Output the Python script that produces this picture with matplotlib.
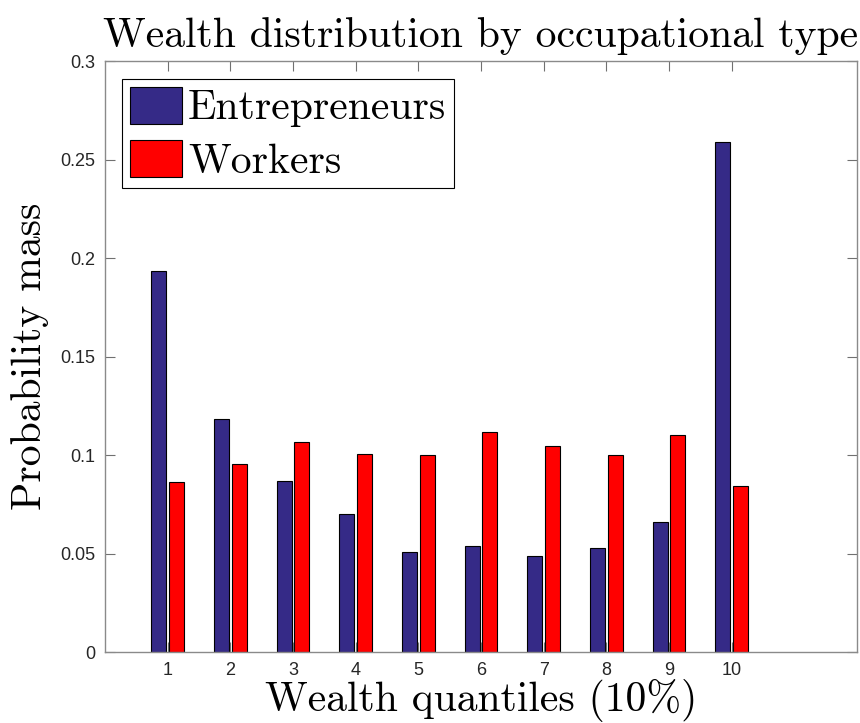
import matplotlib.pyplot as plt
import numpy as np

# Wealth quantile groups
quantiles = [1, 2, 3, 4, 5, 6, 7, 8, 9, 10]
entrepreneurs = [0.1933, 0.1183, 0.0867, 0.0700, 0.0510, 0.0540, 0.0486, 0.0529, 0.0662, 0.2590]
workers = [0.0865, 0.0953, 0.1066, 0.1007, 0.0998, 0.1116, 0.1045, 0.1000, 0.1101, 0.0843]

blue = '#352A87'
red = '#FF0000'
serif = 'cmr10'

fig = plt.figure(figsize=(8.6, 7.23), dpi=100)
ax = fig.add_axes([0.1221, 0.0982, 0.8744, 0.8174])

x = np.array(quantiles)
w = 0.24
ax.bar(x - 0.14, entrepreneurs, width=w, color=blue, edgecolor='black', linewidth=0.8, label='Entrepreneurs')
ax.bar(x + 0.14, workers, width=w, color=red, edgecolor='black', linewidth=0.8, label='Workers')

ax.set_xlim(0, 12)
ax.set_ylim(0, 0.3)
ax.set_xticks(quantiles)
ax.set_yticks([0, 0.05, 0.1, 0.15, 0.2, 0.25, 0.3])
ax.set_yticklabels(['0', '0.05', '0.1', '0.15', '0.2', '0.25', '0.3'])

for s in ax.spines.values():
    s.set_color('#8a8a8a')
    s.set_linewidth(1.0)
ax.tick_params(direction='in', length=7, width=0.8, color='#707070',
               top=True, right=True, labelsize=13, labelcolor='#262626', pad=7)
for lab in ax.get_xticklabels() + ax.get_yticklabels():
    lab.set_fontfamily('Liberation Sans')

ax.set_title('Wealth distribution by occupational type', fontfamily=serif, fontsize=30, pad=10)
ax.set_xlabel('Wealth quantiles (10%)', fontfamily=serif, fontsize=30, labelpad=0)
ax.set_ylabel('Probability mass', fontfamily=serif, fontsize=30, labelpad=8)

leg = ax.legend(loc='upper left', bbox_to_anchor=(0.0226, 0.9695), borderaxespad=0,
                prop={'family': serif, 'size': 30}, fancybox=False, edgecolor='black',
                framealpha=1, handlelength=1.25, handleheight=1.0, handletextpad=0.15,
                borderpad=0.18, labelspacing=0.3)
leg.get_frame().set_linewidth(0.8)

fig.savefig('out.png', dpi=100)
